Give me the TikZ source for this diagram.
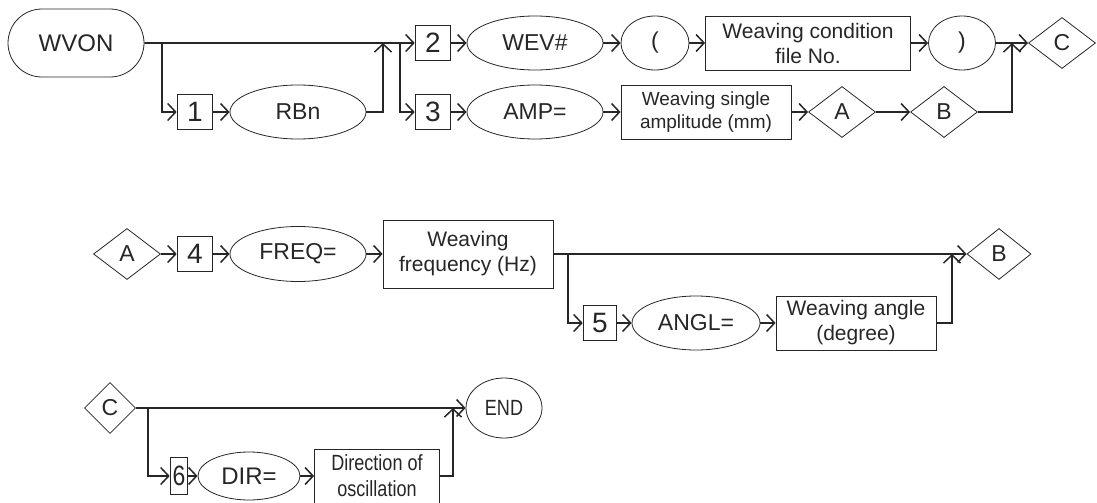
\documentclass[tikz,border=0pt]{standalone}
\usepackage{fontspec}
\setmainfont{Liberation Sans}
\newfontfamily\narrow[FakeStretch=0.82]{Liberation Sans}
\usetikzlibrary{shapes.geometric,shapes.misc,arrows.meta}
\definecolor{ink}{HTML}{262626}

\begin{document}
\begin{tikzpicture}[x=1pt, y=-1pt, color=ink,
    every node/.style={draw, text=ink, inner sep=0pt, align=center, line width=0.8pt,
      font=\fontsize{23}{27}\selectfont},
    numbox/.style={minimum width=35pt, minimum height=35pt, line width=1.6pt,
      font=\fontsize{28}{30}\selectfont},
    oval/.style={ellipse, minimum width=136pt, minimum height=54pt},
    txtbox/.style={minimum height=54pt, font=\fontsize{21}{25}\selectfont},
    jump/.style={diamond, aspect=1.33, minimum width=67pt, minimum height=51pt},
    flow/.style={line width=1.8pt},
    arr/.style={flow, -{Straight Barb[length=8pt, width=17pt, line width=1.5pt]}}]
  \useasboundingbox (0,0) rectangle (1097,503);

  % first row
  \node[rounded rectangle, minimum width=136pt, minimum height=68pt, font=\fontsize{24}{28}\selectfont] (wvon) at (76,43) {WVON};
  \node[numbox] (n1) at (195,112) {1};
  \node[oval] (rbn) at (298,112) {RBn};
  \node[numbox] (n2) at (433,43) {2};
  \node[oval] (wev) at (535,43) {WEV\#};
  \node[oval, minimum width=68pt] (lpar) at (655,43) {(};
  \node[txtbox, minimum width=205pt] (wfile) at (808,43) {Weaving condition\\file No.};
  \node[oval, minimum width=67pt] (rpar) at (962,43) {)};
  \node[jump] (c1) at (1062,43) {C};
  \node[numbox] (n3) at (433,112) {3};
  \node[oval] (amp) at (535,112) {AMP=};
  \node[txtbox, minimum width=170pt, font=\fontsize{19}{23}\selectfont] (wamp) at (706,112) {Weaving single\\amplitude (mm)};
  \node[jump] (a1) at (842,112) {A};
  \node[jump] (b1) at (944,112) {B};

  % second row
  \node[jump] (a2) at (127,254) {A};
  \node[numbox] (n4) at (195,254) {4};
  \node[oval, minimum height=55pt] (freq) at (298,254) {FREQ=};
  \node[txtbox, minimum width=170pt, minimum height=68pt] (wfreq) at (468,254) {Weaving\\frequency (Hz)};
  \node[jump, minimum width=64pt] (b2) at (999,254) {B};
  \node[numbox, minimum width=33pt] (n5) at (600,323) {5};
  \node[oval, minimum width=128pt] (angl) at (696,323) {ANGL=};
  \node[txtbox, minimum width=160pt] (wangl) at (856,323) {Weaving angle\\(degree)};

  % third row
  \node[jump, aspect=1, minimum width=51pt] (c2) at (110,408) {C};
  \node[ellipse, minimum width=76pt, minimum height=60pt, font=\narrow\fontsize{22}{26}\selectfont] (fin) at (504,408) {END};
  \node[numbox, minimum width=17pt, minimum height=37pt, font=\narrow\fontsize{28}{30}\selectfont] (n6) at (179,476) {6};
  \node[oval, minimum width=102pt, minimum height=48pt, font=\fontsize{24}{28}\selectfont] (dir) at (249,476) {DIR=};
  \node[txtbox, minimum width=125pt, font=\narrow\fontsize{22}{26}\selectfont] (wdir) at (377,476) {Direction of\\oscillation};

  % branch and merge points
  \coordinate (s1) at (162,43);
  \coordinate (m1) at (383,43);
  \coordinate (s2) at (400,43);
  \coordinate (m2) at (1012,43);
  \coordinate (s3) at (568,254);
  \coordinate (m3) at (952,254);
  \coordinate (s4) at (148,408);
  \coordinate (m4) at (453,408);

  \draw[arr] (wvon) -- (n2);
  \draw[arr] (rpar) -- (c1);
  \draw[arr] (wfreq) -- (b2);
  \draw[arr] (c2) -- (fin);
  \foreach \a/\b in {s1/n1, s2/n3, s3/n5, s4/n6}
    \draw[arr] (\a) |- (\b);
  \foreach \a/\b in {rbn/m1, b1/m2, wangl/m3, wdir/m4}
    \draw[arr] (\a) -| (\b);
  \foreach \a/\b in {n1/rbn, n2/wev, wev/lpar, lpar/wfile, wfile/rpar, n3/amp, amp/wamp,
      wamp/a1, a1/b1, a2/n4, n4/freq, freq/wfreq, n5/angl, angl/wangl, n6/dir, dir/wdir}
    \draw[arr] (\a) -- (\b);
\end{tikzpicture}
\end{document}
